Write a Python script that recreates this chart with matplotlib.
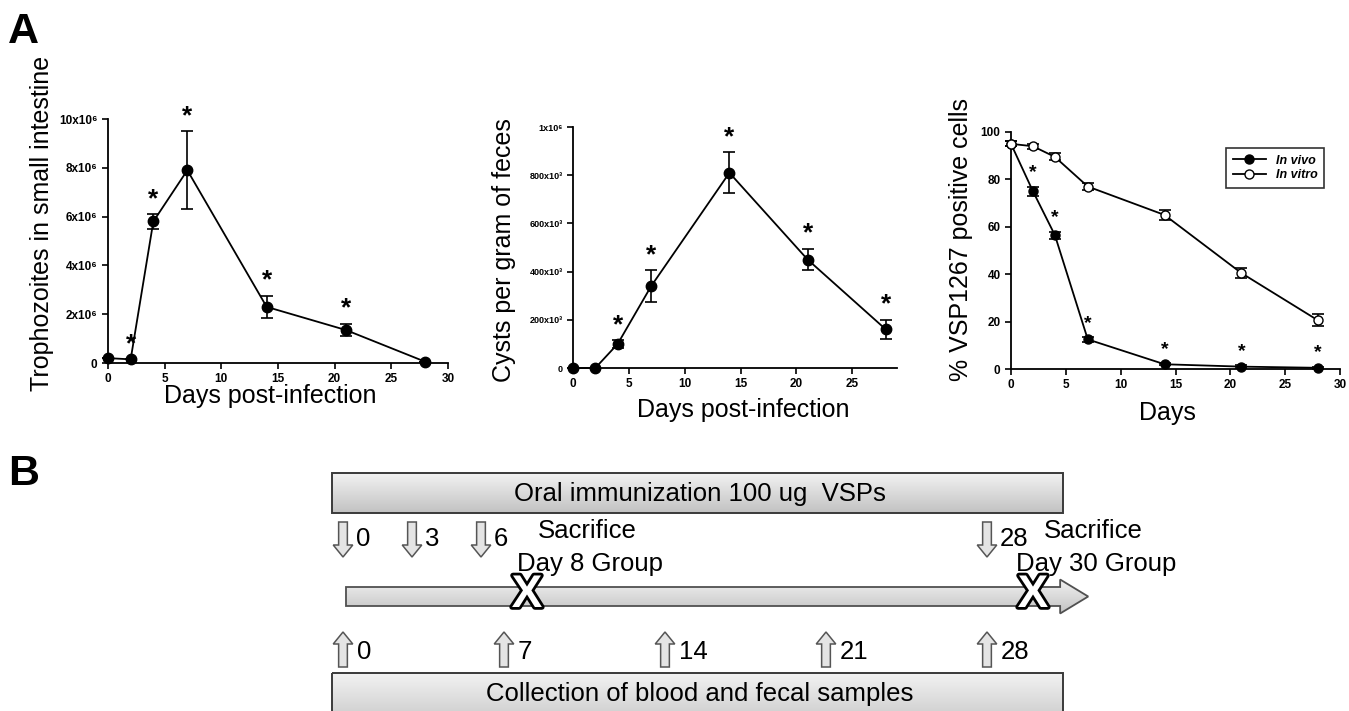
import numpy as np
import matplotlib
matplotlib.use("Agg")
import matplotlib.pyplot as plt
from matplotlib.patches import Rectangle, FancyArrow
from matplotlib.colors import LinearSegmentedColormap
import matplotlib.patheffects as pe

plt.rcParams['font.family'] = ['Liberation Sans', 'DejaVu Sans']

# ---- panel A data ----
days = [0, 2, 4, 7, 14, 21, 28]

# trophozoites, x10^6
troph = [0.2, 0.15, 5.8, 7.9, 2.3, 1.35, 0.05]
troph_err = [0, 0, 0.3, 1.6, 0.45, 0.25, 0]
troph_sig = [False, True, True, True, True, True, False]
troph_ticks = [0, 2, 4, 6, 8, 10]
troph_ticklabels = ['0', '2x10⁶', '4x10⁶', '6x10⁶', '8x10⁶', '10x10⁶']

# cysts, x10^3
cysts = [0, 0, 100, 340, 810, 450, 160]
cysts_err = [0, 0, 15, 65, 85, 45, 40]
cysts_sig = [False, False, True, True, True, True, True]
cysts_ticks = [0, 200, 400, 600, 800, 1000]
cysts_ticklabels = ['0', '200x10³', '400x10³', '600x10³', '800x10³', '1x10⁶']

# % VSP1267 positive cells
vivo = [95, 75, 56.5, 12.5, 2, 1, 0.5]
vivo_err = [1, 2, 1.5, 1, 0.5, 0.5, 0.5]
vitro = [95, 94, 89.5, 77, 65, 40.5, 20.5]
vitro_err = [1, 1, 1.5, 1.5, 2, 2, 2.5]
vivo_sig = [False, True, True, True, True, True, True]

# ---- panel B data ----
immun_days = [0, 3, 6, 28]
sample_days = [0, 7, 14, 21, 28]
sacrifice_days = [8, 30]
sacrifice_groups = ['Day 8 Group', 'Day 30 Group']

fig = plt.figure(figsize=(13.49, 7.11), dpi=100)
W, H = 1349, 711


def px_axes(x0, x1, y_bot, y_top):
    return fig.add_axes([x0 / W, 1 - y_bot / H, (x1 - x0) / W, (y_bot - y_top) / H])


def style(ax):
    for s in ['top', 'right']:
        ax.spines[s].set_visible(False)
    for s in ['left', 'bottom']:
        ax.spines[s].set_linewidth(1.3)
    ax.tick_params(direction='out', length=4, width=1.2)
    for lab in ax.get_xticklabels() + ax.get_yticklabels():
        lab.set_fontweight('bold')


def stars(ax, x, y, err, sig, size, off):
    for xi, yi, ei, s in zip(x, y, err, sig):
        if s:
            ax.annotate('*', (xi, yi + ei), xytext=(0, off), textcoords='offset points',
                        ha='center', va='center', fontsize=size, fontweight='bold')


def series(ax, y, err, face, ms):
    eb = ax.errorbar(days, y, yerr=err, fmt='-o', color='black', mfc=face, mec='black',
                     ms=ms, lw=1.3, elinewidth=1.2, capsize=4.5, capthick=1.2, zorder=3)
    for art in eb.get_children():
        art.set_clip_on(False)
    return eb


# --- A1 trophozoites ---
ax1 = px_axes(108, 448, 363, 119)
series(ax1, troph, troph_err, 'black', 7.5)
stars(ax1, days, troph, troph_err, troph_sig, 19, 11)
ax1.set_xlim(0, 30)
ax1.set_ylim(0, 10)
ax1.set_xticks(range(0, 31, 5))
ax1.set_yticks(troph_ticks)
ax1.set_yticklabels(troph_ticklabels)
ax1.tick_params(labelsize=8.5)
ax1.set_ylabel('Trophozoites in small intestine', fontsize=18)
ax1.yaxis.set_label_coords(-0.16, 0.57)
ax1.set_xlabel('Days post-infection', fontsize=18, va='top')
ax1.xaxis.set_label_coords(0.476, -0.085)
style(ax1)

# --- A2 cysts ---
ax2 = px_axes(573, 897, 368, 127)
series(ax2, cysts, cysts_err, 'black', 7.5)
stars(ax2, days, cysts, cysts_err, cysts_sig, 19, 11)
ax2.set_xlim(0, 29)
ax2.set_ylim(0, 1000)
ax2.set_xticks(range(0, 26, 5))
ax2.set_yticks(cysts_ticks)
ax2.set_yticklabels(cysts_ticklabels)
ax2.tick_params(axis='x', labelsize=8.5)
ax2.tick_params(axis='y', labelsize=6.5)
ax2.set_ylabel('Cysts per gram of feces', fontsize=18)
ax2.yaxis.set_label_coords(-0.175, 0.49)
ax2.set_xlabel('Days post-infection', fontsize=18, va='top')
ax2.xaxis.set_label_coords(0.525, -0.125)
style(ax2)

# --- A3 VSP1267 ---
ax3 = px_axes(1011, 1340, 369, 132)
series(ax3, vivo, vivo_err, 'black', 6.5)
series(ax3, vitro, vitro_err, 'white', 6.5)
stars(ax3, days, vivo, vivo_err, vivo_sig, 14, 10)
ax3.set_xlim(0, 30)
ax3.set_ylim(0, 100)
ax3.set_xticks(range(0, 31, 5))
ax3.set_yticks(range(0, 101, 20))
ax3.tick_params(labelsize=8.5)
ax3.set_ylabel('% VSP1267 positive cells', fontsize=18)
ax3.yaxis.set_label_coords(-0.115, 0.545)
ax3.set_xlabel('Days', fontsize=18, va='top')
ax3.xaxis.set_label_coords(0.474, -0.135)
h1 = plt.Line2D([], [], color='black', marker='o', mfc='black', ms=6.5, lw=1.3)
h2 = plt.Line2D([], [], color='black', marker='o', mfc='white', ms=6.5, lw=1.3)
leg = ax3.legend([h1, h2], ['In vivo', 'In vitro'], loc='upper left',
                 bbox_to_anchor=(0.635, 0.96), fancybox=False, framealpha=1,
                 edgecolor='#333333', handlelength=2.6, borderpad=0.55,
                 labelspacing=0.2, prop={'size': 9, 'weight': 'bold', 'style': 'italic'})
leg.get_frame().set_linewidth(1.2)
style(ax3)

fig.text(8 / W, 1 - 43 / H, 'A', fontsize=31, fontweight='bold', va='baseline')
fig.text(8 / W, 1 - 485 / H, 'B', fontsize=31, fontweight='bold', va='baseline')

# --- B timeline ---
axB = fig.add_axes([0, 0, 1, 281 / H])
xl = (-343 / 23, (W - 343) / 23)
axB.axis('off')
gcmap = LinearSegmentedColormap.from_list('g', ['#c2c2c2', '#f2f2f2'])
grad = np.linspace(0, 1, 64).reshape(-1, 1)


def grad_patch(patch, x0, x1, y0, y1):
    axB.add_patch(patch)
    im = axB.imshow(grad, cmap=gcmap, extent=(x0, x1, y1, y0), origin='lower',
                    aspect='auto', interpolation='bicubic', zorder=1)
    im.set_clip_path(patch)
    patch.set_zorder(2)


box_l, box_r = -0.48, 31.3
grad_patch(Rectangle((box_l, 473), box_r - box_l, 40, fc='none', ec='#3a3a3a', lw=1.4),
           box_l, box_r, 473, 513)
axB.text(15.5, 494, 'Oral immunization 100 ug  VSPs', fontsize=18.5, ha='center', va='center')

grad_patch(Rectangle((box_l, 673), box_r - box_l, 60, fc='none', ec='#3a3a3a', lw=1.4),
           box_l, box_r, 673, 733)
axB.text(15.5, 694, 'Collection of blood and fecal samples', fontsize=18.5, ha='center', va='center')

tl = FancyArrow(0.13, 596.5, 32.27, 0, width=19, head_width=34, head_length=1.22,
                length_includes_head=True, fc='none', ec='#505050', lw=1.3)
grad_patch(tl, 0.13, 32.4, 579, 614)

for d in immun_days:
    a = FancyArrow(d, 522, 0, 35, width=0.38, head_width=0.85, head_length=12,
                   length_includes_head=True, fc='#e4e4e4', ec='#555555', lw=1.1, zorder=3)
    axB.add_patch(a)
    axB.text(d + 0.55, 539, str(d), fontsize=18.5, ha='left', va='center')

for d in sample_days:
    a = FancyArrow(d, 667, 0, -35, width=0.38, head_width=0.85, head_length=12,
                   length_includes_head=True, fc='#e4e4e4', ec='#555555', lw=1.1, zorder=3)
    axB.add_patch(a)
    axB.text(d + 0.6, 652, str(d), fontsize=18.5, ha='left', va='center')

for d, grp in zip(sacrifice_days, sacrifice_groups):
    axB.text(d + 2.6, 531, 'Sacrifice', fontsize=18.5, ha='center', va='center', zorder=4)
    axB.text(d + 2.75, 564, grp, fontsize=18.5, ha='center', va='center', zorder=4)
    axB.text(d, 595, 'X', fontsize=33, fontweight='bold', color='white', ha='center', va='center',
             zorder=5, path_effects=[pe.withStroke(linewidth=4, foreground='black')])

axB.set_xlim(*xl)
axB.set_ylim(H, 430)

fig.savefig('out.png', dpi=100)
